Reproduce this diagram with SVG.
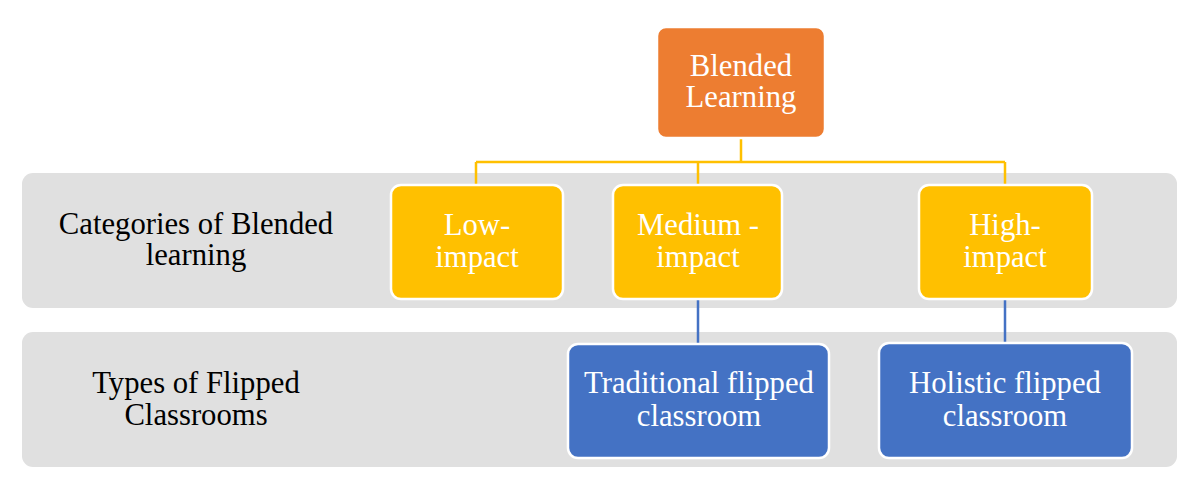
<svg xmlns="http://www.w3.org/2000/svg" width="1200" height="496" viewBox="0 0 1200 496">
<style>
.band{fill:#E0E0E0}
.node rect{stroke:#FFFFFF;stroke-width:2.5}
.orange{fill:#ED7D31}
.yellow{fill:#FFC000}
.blue{fill:#4472C4}
text{font-family:"Liberation Serif","Times New Roman",serif;font-size:30.7px;text-anchor:middle}
.w{fill:#FFFFFF}
.k{fill:#000000}
.cy{stroke:#FFC000;stroke-width:2.5;fill:none}
.cb{stroke:#4472C4;stroke-width:2.5;fill:none}
</style>
<rect width="1200" height="496" fill="#FFFFFF"/>
<g id="band-categories">
<rect class="band" x="22" y="173" width="1155" height="135" rx="11"/>
<text class="k" x="196" y="234">Categories of Blended</text>
<text class="k" x="196" y="265">learning</text>
</g>
<g id="band-types">
<rect class="band" x="22" y="332" width="1155" height="135" rx="11"/>
<text class="k" x="196" y="393">Types of Flipped</text>
<text class="k" x="196" y="425">Classrooms</text>
</g>
<g id="connectors">
<path class="cy" d="M741 138 V162 M476 162 H1005 M476 162 V185 M698 162 V185 M1005 162 V185"/>
<path class="cb" d="M698 299 V344 M1005 299 V343"/>
</g>
<g id="node-blended" class="node">
<rect class="orange" x="657" y="27" width="168" height="111" rx="9"/>
<text class="w" x="741" y="76">Blended</text>
<text class="w" x="741" y="107">Learning</text>
</g>
<g id="node-low" class="node">
<rect class="yellow" x="391" y="185" width="172" height="114" rx="10"/>
<text class="w" x="477" y="235">Low-</text>
<text class="w" x="477" y="267">impact</text>
</g>
<g id="node-medium" class="node">
<rect class="yellow" x="613" y="185" width="169" height="114" rx="10"/>
<text class="w" x="698" y="235">Medium -</text>
<text class="w" x="698" y="267">impact</text>
</g>
<g id="node-high" class="node">
<rect class="yellow" x="919" y="185" width="173" height="114" rx="10"/>
<text class="w" x="1005" y="235">High-</text>
<text class="w" x="1005" y="267">impact</text>
</g>
<g id="node-traditional" class="node">
<rect class="blue" x="568" y="344" width="261" height="114" rx="10"/>
<text class="w" x="699" y="393">Traditional flipped</text>
<text class="w" x="699" y="426">classroom</text>
</g>
<g id="node-holistic" class="node">
<rect class="blue" x="879" y="343" width="253" height="115" rx="10"/>
<text class="w" x="1005" y="393">Holistic flipped</text>
<text class="w" x="1005" y="426">classroom</text>
</g>
</svg>
